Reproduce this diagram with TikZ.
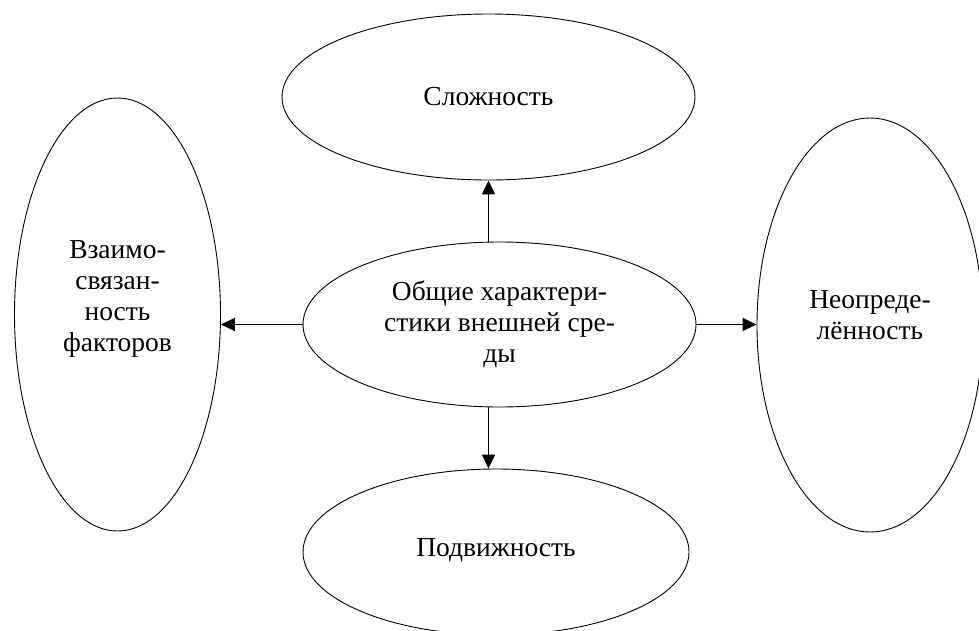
\documentclass[tikz,border=0pt]{standalone}
\usepackage{fontspec}
\setmainfont{Liberation Serif}
\usetikzlibrary{shapes.geometric,arrows.meta}
\tikzset{
    oval/.style={ellipse, draw=black, line width=0.9pt, inner sep=0pt},
    label text/.style={align=center, inner sep=0pt, font=\fontsize{27.5}{31}\selectfont},
    link/.style={-{Triangle[length=14pt,width=13pt]}, black, line width=1.5pt}
}
\begin{document}
\begin{tikzpicture}[x=1pt,y=-1pt]
        \useasboundingbox (0,0) rectangle (979,630);
        % ovals
        \node[oval, minimum width=393pt, minimum height=165pt] (Main) at (499.5,324.5) {};
        \node[oval, minimum width=413pt, minimum height=166pt] (Top) at (488.5,97) {};
        \node[oval, minimum width=386pt, minimum height=166pt] (Bottom) at (496,552) {};
        \node[oval, minimum width=206pt, minimum height=433pt] (Left) at (117.5,314.5) {};
        \node[oval, minimum width=226pt, minimum height=414pt] (Right) at (870,325) {};
        % texts
        \node[label text] (MainText) at (Main.center) {Общие характери-\\стики внешней сре-\\ды};
        \node[label text] (TopText) at (Top.center) {Сложность};
        \node[label text] (BottomText) at ([yshift=2pt]Bottom.center) {Подвижность};
        \node[label text] (LeftText) at ([yshift=16pt]Left.center) {Взаимо-\\связан-\\ность\\факторов};
        \node[label text] (RightText) at ([yshift=10pt]Right.center) {Неопреде-\\лённость};
        % arrows
        \draw[link] (Main.north -| Top.south) -- (Top.south);
        \draw[link] (Main.south -| Top.south) -- (Bottom.north -| Top.south);
        \draw[link] (Main.west) -- (Main.west -| Left.east);
        \draw[link] (Main.east) -- (Main.east -| Right.west);
\end{tikzpicture}
\end{document}
